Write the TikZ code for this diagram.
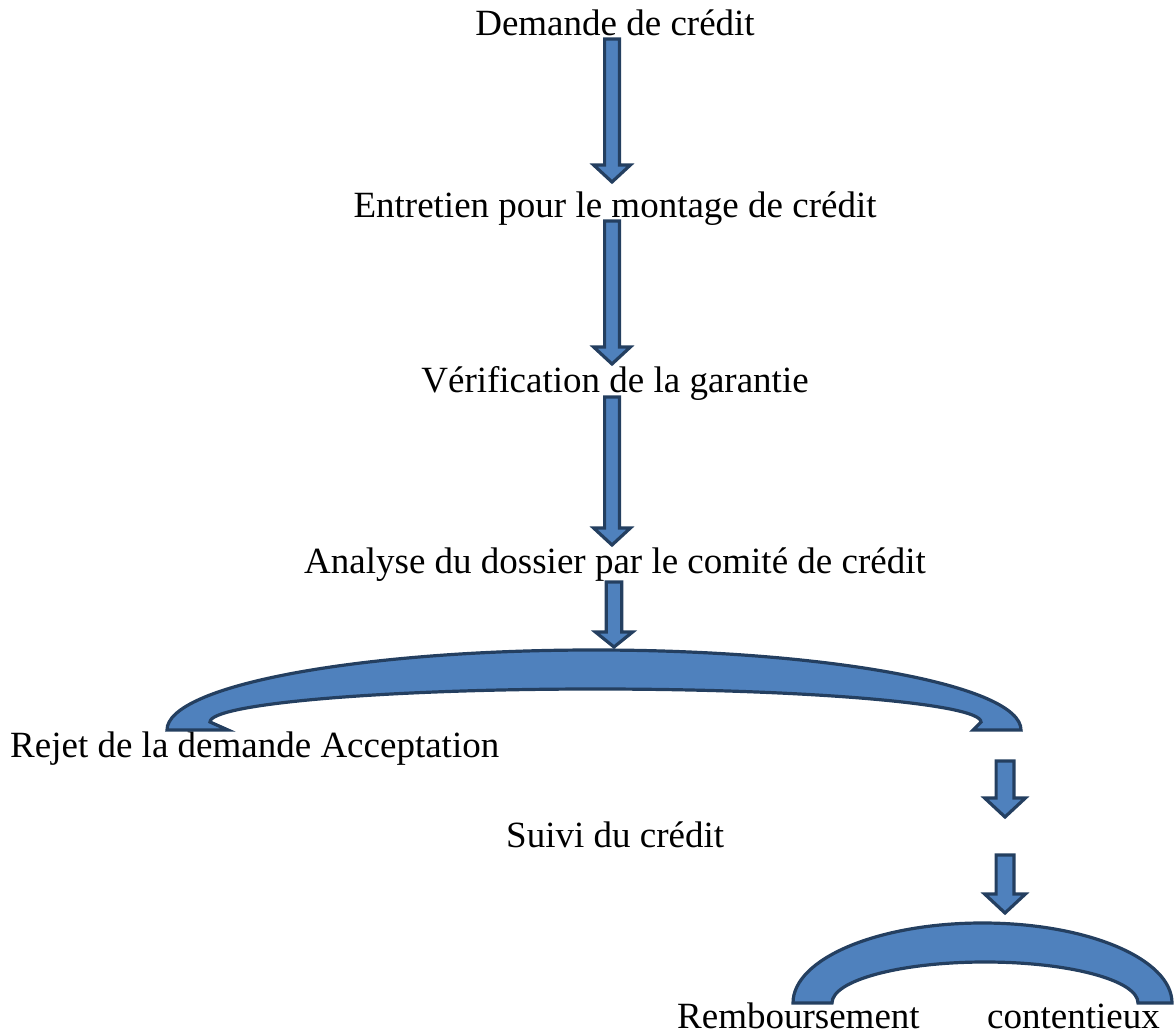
\documentclass[tikz,border=0pt]{standalone}
\usepackage{fontspec}
\setmainfont{Liberation Serif}
\usetikzlibrary{calc}
\definecolor{arrowfill}{HTML}{4F81BD}
\definecolor{arrowline}{HTML}{243F60}

\begin{document}
\begin{tikzpicture}[x=1pt, y=1pt,
    txt/.style = {inner sep=0pt, anchor=base, font=\fontsize{37pt}{44pt}\selectfont},
    bluearc/.style = {fill=arrowfill, draw=arrowline, line width=3.2pt},
    bluearrow/.style n args = {3}{bluearc, to path={let \p1=(\tikztostart), \p2=(\tikztotarget) in
        (\x1-#1,\y1) -- (\x1+#1,\y1) -- (\x1+#1,\y2+#3) -- (\x1+#2,\y2+#3) -- (\x2,\y2)
        -- (\x1-#2,\y2+#3) -- (\x1-#1,\y2+#3) -- cycle}}]
    \useasboundingbox (0,0) rectangle (1174,1034);
        \node[txt] (demande) at (615,998) {Demande de crédit};
        \node[txt] (entretien) at (615,816) {Entretien pour le montage de crédit};
        \node[txt] (verif) at (615,641) {Vérification de la garantie};
        \node[txt] (analyse) at (615,460) {Analyse du dossier par le comité de crédit};
        \node[txt, anchor=base west] (rejet) at (10,277) {Rejet de la demande Acceptation};
        \node[txt, anchor=base west] (suivi) at (506,187) {Suivi du crédit};
        \node[txt, anchor=base west] (rembours) at (677,6) {Remboursement};
        \node[txt, anchor=base west] (contentieux) at (987,6) {contentieux};
        \coordinate (t1) at (612,995);
        \coordinate (h1) at (612,852);
        \coordinate (t2) at (612,813);
        \coordinate (h2) at (612,670);
        \coordinate (t3) at (612,637);
        \coordinate (h3) at (612,489);
        \coordinate (t4) at (614,452);
        \coordinate (h4) at (614,387);
        \coordinate (t5) at (1005,273);
        \coordinate (h5) at (1005,217);
        \coordinate (t6) at (1005,179);
        \coordinate (h6) at (1005,121);
        \draw[bluearrow={7.4pt}{18.4pt}{17pt}] (t1) to (h1);
        \draw[bluearrow={7.4pt}{18.4pt}{17pt}] (t2) to (h2);
        \draw[bluearrow={7.4pt}{18.4pt}{17pt}] (t3) to (h3);
        \draw[bluearrow={7.8pt}{18.6pt}{15pt}] (t4) to (h4);
        \draw[bluearrow={8.9pt}{20.4pt}{19pt}] (t5) to (h5);
        \draw[bluearrow={8.9pt}{20.4pt}{19pt}] (t6) to (h6);
        \filldraw[bluearc] (167,304) arc[start angle=180, end angle=0, x radius=427pt, y radius=80pt]
            -- (973,304) -- (981,312) arc[start angle=0, end angle=180, x radius=385.5pt, y radius=33pt]
            -- (228,304) -- cycle;
        \filldraw[bluearc] (793,31) arc[start angle=180, end angle=0, x radius=189.5pt, y radius=80pt]
            -- (1138,31) arc[start angle=0, end angle=180, x radius=153pt, y radius=41pt] -- cycle;
    \end{tikzpicture}
\end{document}
